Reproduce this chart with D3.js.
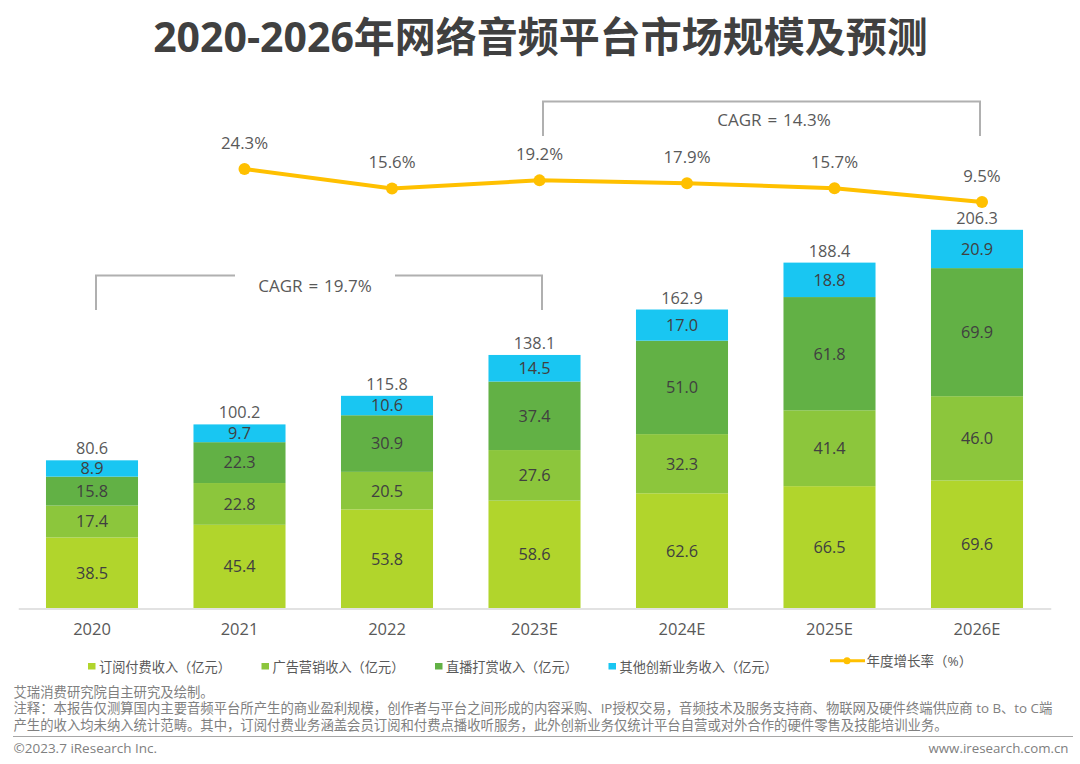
<!DOCTYPE html>
<html>
<head>
<meta charset="utf-8">
<script src="https://cdnjs.cloudflare.com/ajax/libs/d3/7.8.5/d3.min.js"></script>
<style>
html, body { margin: 0; padding: 0; background: #fff; }
svg { display: block; }
text { font-family: "Open Sans", "Noto Sans CJK SC", sans-serif; }
</style>
</head>
<body>
<svg id="chart" width="1080" height="764"></svg>
<script>
var years = ["2020", "2021", "2022", "2023E", "2024E", "2025E", "2026E"];
var subscription = [38.5, 45.4, 53.8, 58.6, 62.6, 66.5, 69.6];
var advertising = [17.4, 22.8, 20.5, 27.6, 32.3, 41.4, 46.0];
var liveTips = [15.8, 22.3, 30.9, 37.4, 51.0, 61.8, 69.9];
var otherBiz = [8.9, 9.7, 10.6, 14.5, 17.0, 18.8, 20.9];
var totals = [80.6, 100.2, 115.8, 138.1, 162.9, 188.4, 206.3];

var growthYears = ["2021", "2022", "2023E", "2024E", "2025E", "2026E"];
var growth = [24.3, 15.6, 19.2, 17.9, 15.7, 9.5];

var seriesNames = ["订阅付费收入（亿元）", "广告营销收入（亿元）", "直播打赏收入（亿元）", "其他创新业务收入（亿元）"];
var seriesColors = ["#b1d52c", "#8cc63c", "#62b145", "#19c6f2"];
var seriesValues = [subscription, advertising, liveTips, otherBiz];

var noteLines = [
   "艾瑞消费研究院自主研究及绘制。",
   "注释：本报告仅测算国内主要音频平台所产生的商业盈利规模，创作者与平台之间形成的内容采购、IP授权交易，音频技术及服务支持商、物联网及硬件终端供应商 to B、to C端",
   "产生的收入均未纳入统计范畴。其中，订阅付费业务涵盖会员订阅和付费点播收听服务，此外创新业务仅统计平台自营或对外合作的硬件零售及技能培训业务。"
];

var svg = d3.select("#chart");
var textDark = "#404040", textGrey = "#595959", noteGrey = "#808080", bracketGrey = "#b0b0b0";

var x = d3.scaleBand().domain(years).range([18.25, 1050.75]).paddingInner(0.376).paddingOuter(0.188);
var y = d3.scaleLinear().domain([0, 206.3]).range([608, 230]);
var yGrowth = d3.scaleLinear().domain([9.5, 24.3]).range([202, 169]);

svg.append("text")
   .attr("x", 540.5).attr("y", 52)
   .attr("text-anchor", "middle")
   .attr("font-size", 41).attr("font-weight", 700)
   .attr("fill", textDark)
   .text("2020-2026年网络音频平台市场规模及预测");

// stacked bars
var stackRows = years.map(function(d, i) {
   return { year: d, s0: subscription[i], s1: advertising[i], s2: liveTips[i], s3: otherBiz[i] };
});
var stacked = d3.stack().keys(["s0", "s1", "s2", "s3"])(stackRows);

stacked.forEach(function(layer, k) {
   var g = svg.append("g");
   g.selectAll("rect").data(layer).enter().append("rect")
      .attr("x", function(d) { return x(d.data.year); })
      .attr("y", function(d) { return y(d[1]); })
      .attr("width", x.bandwidth())
      .attr("height", function(d) { return y(d[0]) - y(d[1]); })
      .attr("fill", seriesColors[k]);
   g.selectAll("text").data(layer).enter().append("text")
      .attr("x", function(d) { return x(d.data.year) + x.bandwidth() / 2; })
      .attr("y", function(d) { return (y(d[0]) + y(d[1])) / 2; })
      .attr("dy", "0.36em")
      .attr("text-anchor", "middle")
      .attr("font-size", 16.3)
      .attr("fill", textDark)
      .text(function(d, i) { return seriesValues[k][i].toFixed(1); });
});

// totals
svg.append("g").selectAll("text").data(totals).enter().append("text")
   .attr("x", function(d, i) { return x(years[i]) + x.bandwidth() / 2; })
   .attr("y", function(d) { return y(d) - 6; })
   .attr("text-anchor", "middle")
   .attr("font-size", 16.3)
   .attr("fill", textGrey)
   .text(function(d) { return d.toFixed(1); });

// x axis
var axis = svg.append("g")
   .attr("transform", "translate(0,608.5)")
   .call(d3.axisBottom(x).tickSize(0).tickPadding(15));
axis.select(".domain").attr("stroke", "#d9d9d9").attr("stroke-width", 1.5);
axis.selectAll("text")
   .attr("font-size", 16.5)
   .attr("fill", textGrey)
   .style("font-family", '"Open Sans", "Noto Sans CJK SC", sans-serif');

// growth line
var growthX = function(d) { return x(d) + x.bandwidth() / 2 + 5; };
var growthLine = d3.line()
   .x(function(d, i) { return growthX(growthYears[i]); })
   .y(function(d) { return yGrowth(d); });

svg.append("path")
   .datum(growth)
   .attr("d", growthLine)
   .attr("fill", "none")
   .attr("stroke", "#ffc000")
   .attr("stroke-width", 4);

svg.append("g").selectAll("circle").data(growth).enter().append("circle")
   .attr("cx", function(d, i) { return growthX(growthYears[i]); })
   .attr("cy", function(d) { return yGrowth(d); })
   .attr("r", 6)
   .attr("fill", "#ffc000");

svg.append("g").selectAll("text").data(growth).enter().append("text")
   .attr("x", function(d, i) { return growthX(growthYears[i]); })
   .attr("y", function(d) { return yGrowth(d) - 20.5; })
   .attr("text-anchor", "middle")
   .attr("font-size", 16.8)
   .attr("fill", textGrey)
   .text(function(d) { return d.toFixed(1) + "%"; });

// CAGR brackets
function bracket(points) {
   svg.append("path")
      .attr("d", d3.line()(points))
      .attr("fill", "none")
      .attr("stroke", bracketGrey)
      .attr("stroke-width", 2);
}
bracket([[96, 310], [96, 275.5], [235, 275.5]]);
bracket([[395, 275.5], [542, 275.5], [542, 310]]);
bracket([[543, 136], [543, 101.5], [980, 101.5], [980, 136]]);

svg.append("text").attr("x", 315).attr("y", 291.5).attr("text-anchor", "middle")
   .attr("font-size", 17).attr("word-spacing", 1.5).attr("fill", textGrey).text("CAGR = 19.7%");
svg.append("text").attr("x", 774).attr("y", 125.5).attr("text-anchor", "middle")
   .attr("font-size", 17).attr("word-spacing", 1.5).attr("fill", textGrey).text("CAGR = 14.3%");

// legend
var legendX = [88, 261.5, 435, 608.5];
seriesNames.forEach(function(name, i) {
   svg.append("rect")
      .attr("x", legendX[i]).attr("y", 663)
      .attr("width", 7.5).attr("height", 6.5)
      .attr("fill", seriesColors[i]);
   svg.append("text")
      .attr("x", legendX[i] + 11).attr("y", 671.5)
      .attr("font-size", 13.2)
      .attr("fill", textGrey)
      .text(name);
});
svg.append("line")
   .attr("x1", 830).attr("x2", 865).attr("y1", 660.7).attr("y2", 660.7)
   .attr("stroke", "#ffc000").attr("stroke-width", 3);
svg.append("circle").attr("cx", 847).attr("cy", 660.7).attr("r", 3.5).attr("fill", "#ffc000");
svg.append("text")
   .attr("x", 866.5).attr("y", 665.5)
   .attr("font-size", 13.5)
   .attr("fill", textGrey)
   .text("年度增长率（%）");

// notes and footer
svg.append("g").selectAll("text").data(noteLines).enter().append("text")
   .attr("x", 13.5)
   .attr("y", function(d, i) { return 696.5 + i * 16.5; })
   .attr("font-size", 13.35)
   .attr("fill", noteGrey)
   .text(function(d) { return d; });

svg.append("line")
   .attr("x1", 13).attr("x2", 1073).attr("y1", 736.5).attr("y2", 736.5)
   .attr("stroke", "#a6a6a6").attr("stroke-width", 1);

svg.append("text").attr("x", 13.5).attr("y", 753)
   .attr("font-size", 13.5).attr("fill", noteGrey).text("©2023.7 iResearch Inc.");
svg.append("text").attr("x", 1068.5).attr("y", 753).attr("text-anchor", "end")
   .attr("font-size", 13.3).attr("fill", noteGrey).text("www.iresearch.com.cn");
</script>
</body>
</html>
